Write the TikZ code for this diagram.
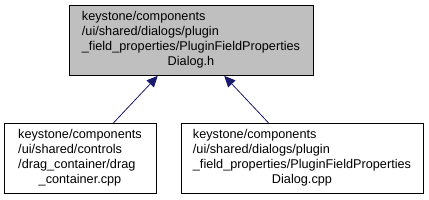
\documentclass[tikz,border=0pt]{standalone}
\usepackage{fontspec}
\setmainfont{Liberation Sans}
\usepackage{xcolor}
\usetikzlibrary{arrows.meta}

\definecolor{edgeblue}{HTML}{191970}
\definecolor{headgray}{HTML}{BFBFBF}

\begin{document}
\begin{tikzpicture}[x=1pt, y=-1pt,
  file/.style={draw=black, line width=0.8pt, minimum height=70pt, inner sep=0pt,
    font=\fontsize{12.7}{15}\selectfont},
  dep/.style={draw=edgeblue, line width=0.8pt, ->},
  >={Triangle[length=11pt, width=10pt]}]

\useasboundingbox (0,0) rectangle (429,200);

% Header file
\node[file, fill=headgray, minimum width=244pt] (header) at (191,40.5)
  {\begin{tabular}{@{}l@{}}keystone/components\\/ui/shared/dialogs/plugin\\
   \_field\_properties/PluginFieldProperties\\
   \multicolumn{1}{@{}c@{}}{Dialog.h}\end{tabular}};

% Files that include it
\node[file, fill=white, minimum width=152pt] (dragcpp) at (80,158.5)
  {\begin{tabular}{@{}l@{}}keystone/components\\/ui/shared/controls\\
   /drag\_container/drag\\
   \multicolumn{1}{@{}c@{}}{\_container.cpp}\end{tabular}};
\node[file, fill=white, minimum width=242pt] (dialogcpp) at (302,158.5)
  {\begin{tabular}{@{}l@{}}keystone/components\\/ui/shared/dialogs/plugin\\
   \_field\_properties/PluginFieldProperties\\
   \multicolumn{1}{@{}c@{}}{Dialog.cpp}\end{tabular}};

% Include edges
\draw[dep] (dragcpp) -- (header);
\draw[dep] (dialogcpp) -- (header);

\end{tikzpicture}
\end{document}
